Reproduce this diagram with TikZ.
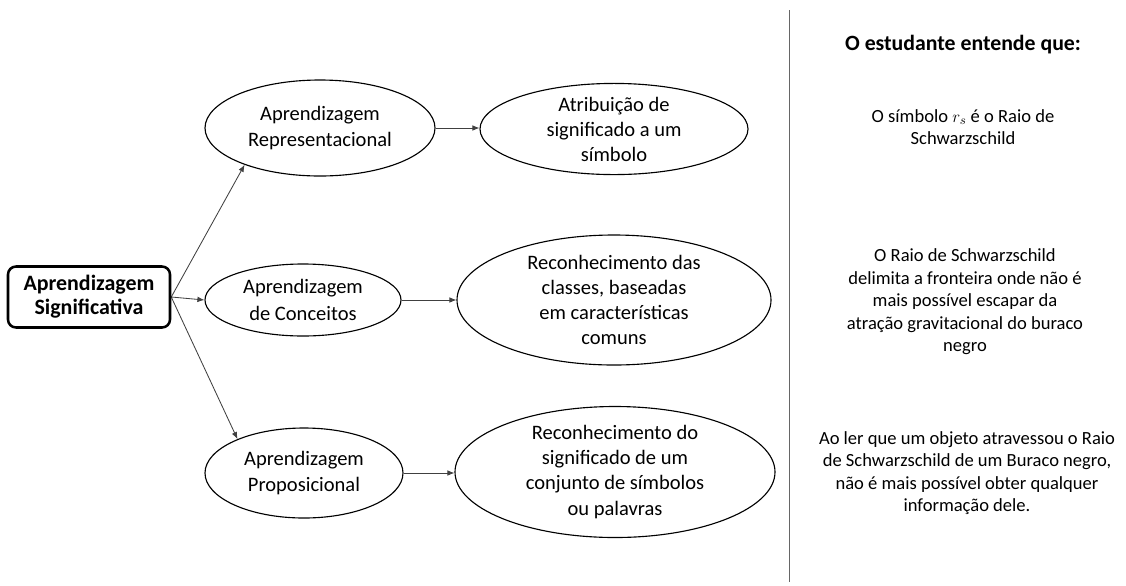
\documentclass[tikz,border=0pt]{standalone}
\usepackage{fontspec}
\setmainfont{Carlito}
\usetikzlibrary{shapes.geometric,arrows.meta}
\pgfdeclarelayer{edgelayer}
\pgfdeclarelayer{nodelayer}
\pgfsetlayers{edgelayer,nodelayer,main}
\tikzstyle{none}=[inner sep=0pt]
\tikzstyle{root}=[draw,line width=1.8pt,rounded corners=0.2cm,minimum width=4.05cm,minimum height=1.525cm,align=center,font=\fontsize{15.6}{17}\selectfont\bfseries]
\tikzstyle{oval}=[ellipse,draw,line width=0.8pt,inner sep=0pt,align=center,font=\fontsize{14.6}{17.8}\selectfont]
\tikzstyle{note}=[inner sep=0pt,align=center,font=\fontsize{13.2}{16}\selectfont]
\tikzstyle{arr}=[draw=black!75,line width=0.6pt,-{Latex[length=5pt,width=4pt]}]

\begin{document}
\begin{tikzpicture}
	\useasboundingbox (0,0) rectangle (28.15,-14.625);
	\begin{pgfonlayer}{nodelayer}
		\node [style=root] (0) at (2.225, -7.425) {Aprendizagem\\Significativa};
		\node [style=oval, font=\fontsize{14.6}{19}\selectfont, minimum width=5.75cm, minimum height=2.4cm] (1) at (8.0, -3.2) {Aprendizagem\\Representacional};
		\node [style=oval, font=\fontsize{14.6}{19}\selectfont, minimum width=4.9cm, minimum height=1.8cm] (2) at (7.575, -7.5) {Aprendizagem\\de Conceitos};
		\node [style=oval, font=\fontsize{14.6}{19}\selectfont, minimum width=4.95cm, minimum height=2.25cm] (3) at (7.6, -11.825) {Aprendizagem\\Proposicional};
		\node [style=oval, minimum width=6.7cm, minimum height=2.2cm] (4) at (15.35, -3.225) {Atribuição de\\significado a um\\símbolo};
		\node [style=oval, minimum width=7.85cm, minimum height=3.25cm] (5) at (15.35, -7.5) {Reconhecimento das\\classes, baseadas\\em características\\comuns};
		\node [style=oval, minimum width=8.0cm, minimum height=3.25cm] (6) at (15.375, -11.8) {Reconhecimento do\\significado de um\\conjunto de símbolos\\ou palavras};
		\node [style=none, font=\fontsize{15.5}{18}\selectfont\bfseries] (7) at (24.075, -1.125) {O estudante entende que:};
		\node [style=note] (8) at (24.075, -3.175) {O símbolo $r_s$ é o Raio de\\Schwarzschild};
		\node [style=note] (9) at (24.125, -7.55) {O Raio de Schwarzschild\\delimita a fronteira onde não é\\mais possível escapar da\\atração gravitacional do buraco\\negro};
		\node [style=note] (10) at (24.175, -11.825) {Ao ler que um objeto atravessou o Raio\\de Schwarzschild de um Buraco negro,\\não é mais possível obter qualquer\\informação dele.};
		\coordinate (11) at (19.725, -0.25);
		\coordinate (12) at (19.725, -14.55);
	\end{pgfonlayer}
	\begin{pgfonlayer}{edgelayer}
		\draw [style=arr] (0.east) to (1.206);
		\draw [style=arr] (0.east) to (2.west);
		\draw [style=arr] (0.east) to (3.153);
		\draw [style=arr] (1.east) to (4.west |- 1.east);
		\draw [style=arr] (2.east) to (5.west);
		\draw [style=arr] (3.east) to (6.west |- 3.east);
		\draw [draw=black!60, line width=0.7pt] (11) to (12);
	\end{pgfonlayer}
\end{tikzpicture}
\end{document}
